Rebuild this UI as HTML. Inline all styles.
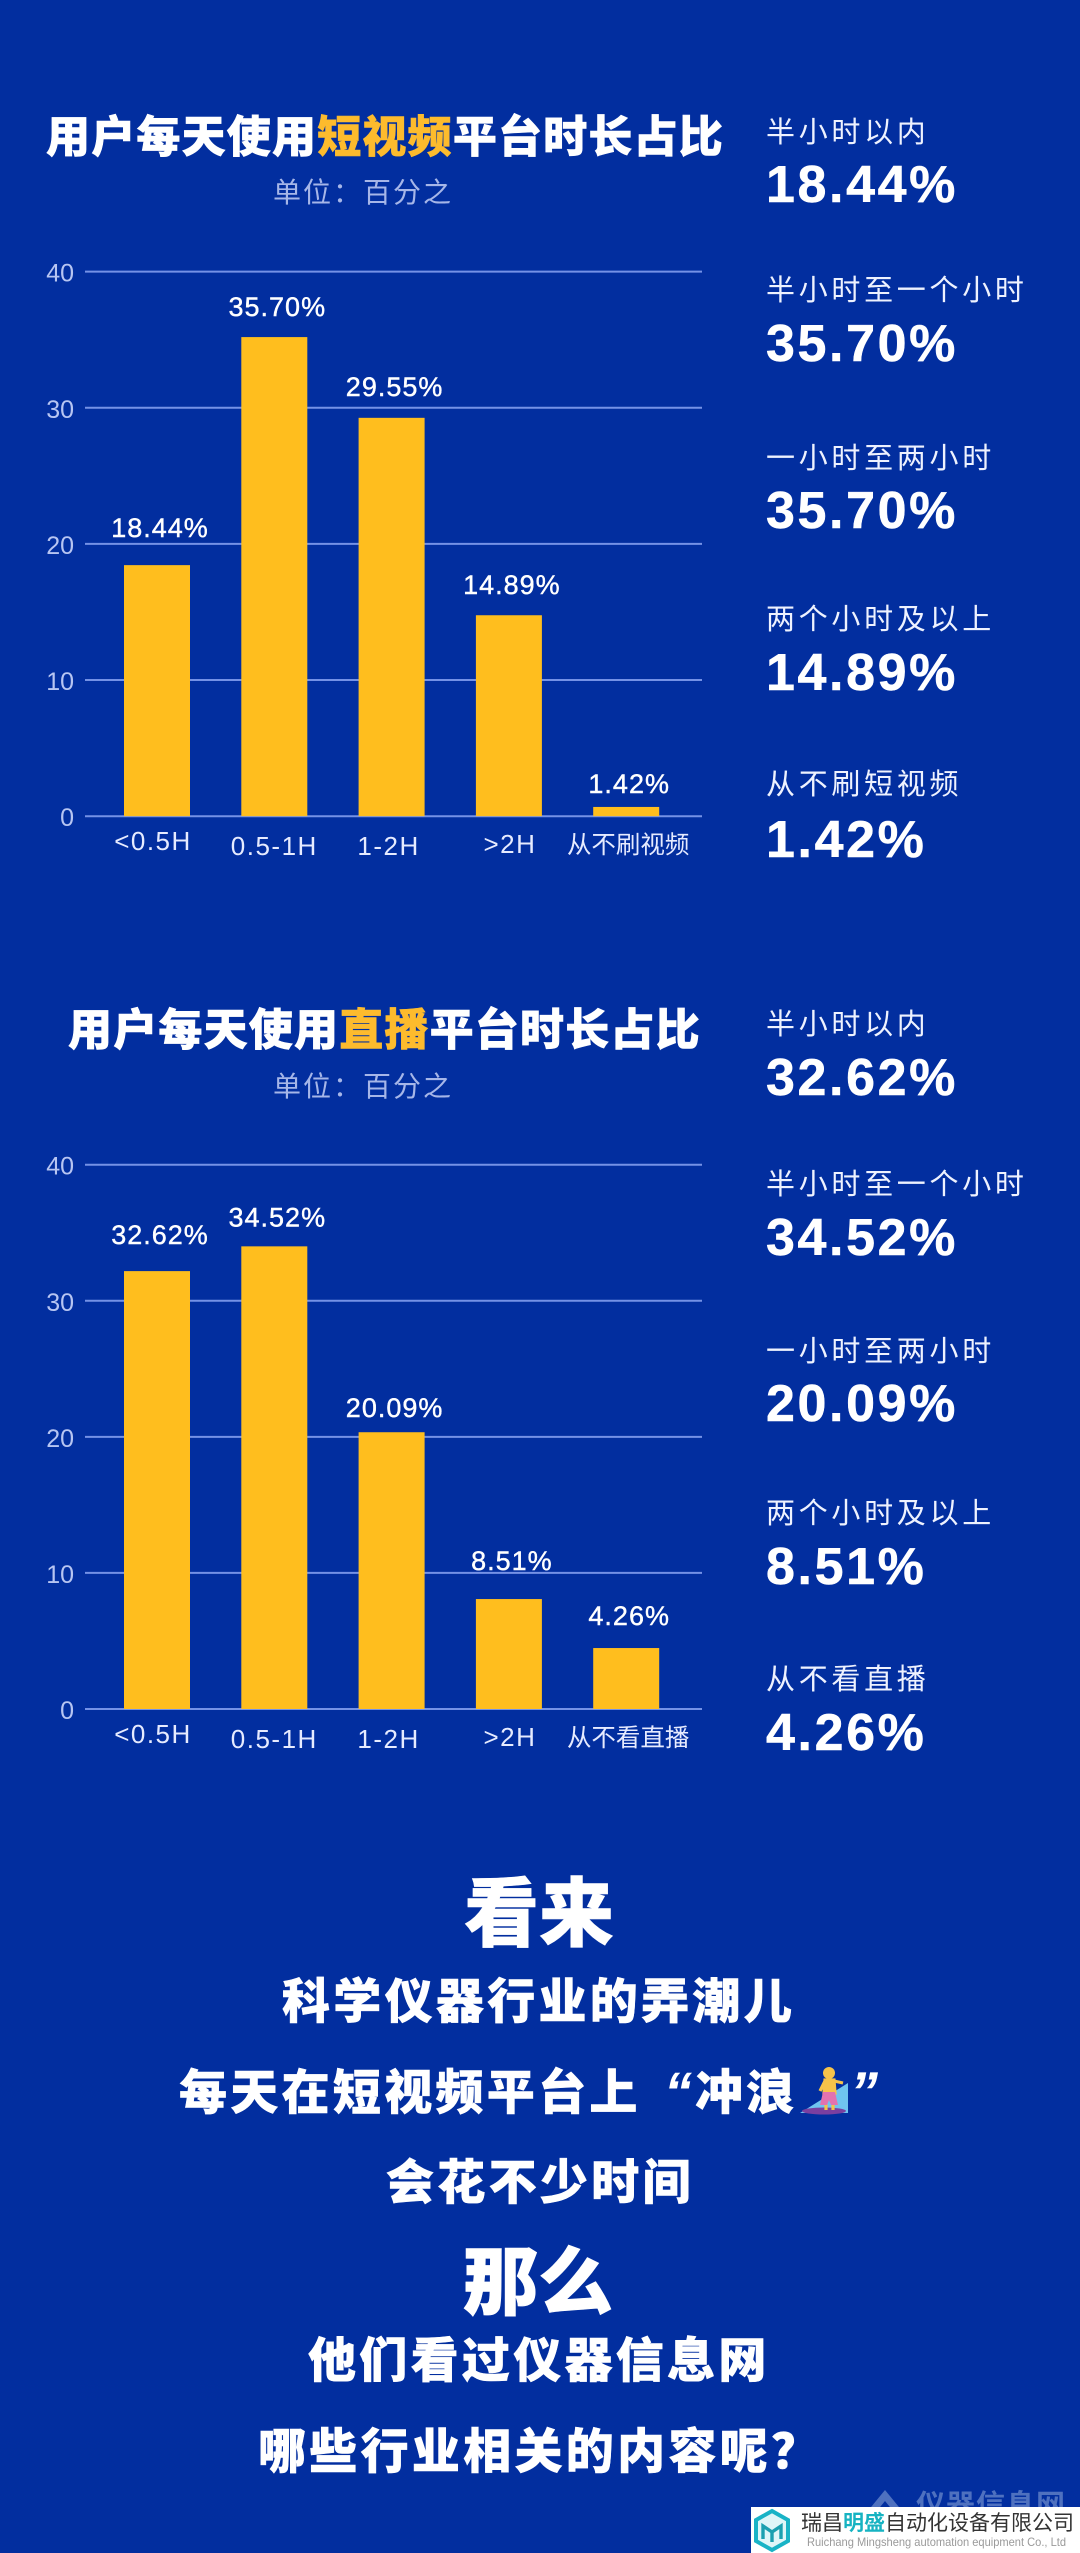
<!DOCTYPE html>
<html lang="zh-CN">
<head>
<meta charset="utf-8">
<title>用户每天使用短视频与直播平台时长占比</title>
<style>
html,body{margin:0;padding:0;background:#022e9f;}
svg{display:block;}
text{font-family:"Liberation Sans","Noto Sans CJK SC",sans-serif;}
.cjk{font-family:"Noto Sans CJK SC","WenQuanYi Zen Hei",sans-serif;}
.title{font-size:44px;font-weight:900;fill:#fff;letter-spacing:1.2px;stroke:#fff;stroke-width:.6px;}
.title .hl{fill:#fdbb2d;stroke:#fdbb2d;}
.unit{font-size:28px;fill:#a6b6e8;letter-spacing:2px;}
.side-label{font-size:29px;fill:#eef2ff;letter-spacing:3.7px;}
.side-value{font-size:52px;font-weight:700;fill:#fff;letter-spacing:2.6px;stroke:#fff;stroke-width:.5px;}
.big{font-size:75px;font-weight:900;fill:#fff;text-anchor:middle;stroke:#fff;stroke-width:.6px;}
.line{font-size:48px;font-weight:900;fill:#fff;letter-spacing:3.3px;stroke:#fff;stroke-width:.5px;}
.tick{font-size:25px;fill:#b7c5f2;text-anchor:end;}
.bar-label{font-size:27px;fill:#fff;text-anchor:middle;letter-spacing:1px;stroke:#fff;stroke-width:.4px;}
.cat{font-size:26px;fill:#e6ebff;text-anchor:middle;letter-spacing:1.5px;}
.cat-cjk{font-size:24.5px;fill:#e6ebff;text-anchor:middle;}
</style>
</head>
<body>
<svg id="page" xmlns="http://www.w3.org/2000/svg" width="1080" height="2553" viewBox="0 0 1080 2553">
  <rect width="1080" height="2553" fill="#022e9f"/>

  <text class="title cjk" x="46" y="152">用户每天使用<tspan class="hl">短视频</tspan>平台时长占比</text>
  <text class="unit cjk" x="273" y="202">单位：百分之</text>
  <g id="chart-short"></g>

  <g>
    <text class="side-label cjk" x="766" y="142">半小时以内</text>
    <text class="side-value" x="766" y="202">18.44%</text>
    <text class="side-label cjk" x="766" y="300">半小时至一个小时</text>
    <text class="side-value" x="766" y="361">35.70%</text>
    <text class="side-label cjk" x="766" y="468">一小时至两小时</text>
    <text class="side-value" x="766" y="528">35.70%</text>
    <text class="side-label cjk" x="766" y="629">两个小时及以上</text>
    <text class="side-value" x="766" y="690">14.89%</text>
    <text class="side-label cjk" x="766" y="794">从不刷短视频</text>
    <text class="side-value" x="766" y="857">1.42%</text>
  </g>

  <text class="title cjk" x="68" y="1045">用户每天使用<tspan class="hl">直播</tspan>平台时长占比</text>
  <text class="unit cjk" x="273" y="1096">单位：百分之</text>
  <g id="chart-live"></g>

  <g>
    <text class="side-label cjk" x="766" y="1034">半小时以内</text>
    <text class="side-value" x="766" y="1095">32.62%</text>
    <text class="side-label cjk" x="766" y="1194">半小时至一个小时</text>
    <text class="side-value" x="766" y="1255">34.52%</text>
    <text class="side-label cjk" x="766" y="1361">一小时至两小时</text>
    <text class="side-value" x="766" y="1421">20.09%</text>
    <text class="side-label cjk" x="766" y="1523">两个小时及以上</text>
    <text class="side-value" x="766" y="1584">8.51%</text>
    <text class="side-label cjk" x="766" y="1689">从不看直播</text>
    <text class="side-value" x="766" y="1750">4.26%</text>
  </g>

  <g>
    <text class="big cjk" x="539" y="1940">看来</text>
    <text class="line cjk" x="282" y="2018">科学仪器行业的弄潮儿</text>
    <text class="line cjk" x="179" y="2109">每天在短视频平台上</text>
    <text x="664" y="2111" font-size="56" font-weight="700" font-style="italic" fill="#fff" style="font-family:'Liberation Sans',sans-serif">“</text>
    <text class="line cjk" x="695" y="2109">冲浪</text>
    <g>
      <polygon points="800,2113 848,2083 848,2113" fill="#6fc4f0"/>
      <ellipse cx="824" cy="2111" rx="22" ry="3.5" fill="#7a3fa0"/>
      <circle cx="829" cy="2073" r="6" fill="#f6c34a"/>
      <path d="M825 2080h9l1 13h-11zM825 2081l-5 10M834 2081l9 2M826 2104v6M833 2104v6" stroke="#f6c34a" stroke-width="3.2" fill="#f6c34a"/>
      <path d="M823 2092h12l3 13h-7l-2-5-2 5h-7z" fill="#e272b0"/>
    </g>
    <text x="850" y="2111" font-size="56" font-weight="700" font-style="italic" fill="#fff" style="font-family:'Liberation Sans',sans-serif">”</text>
    <text class="line cjk" x="386" y="2199">会花不少时间</text>
    <text class="big cjk" x="538" y="2309">那么</text>
    <text class="line cjk" x="308" y="2377">他们看过仪器信息网</text>
    <text class="line cjk" x="258" y="2468">哪些行业相关的内容呢？</text>
  </g>

  <g opacity=".72">
    <path d="M867 2512l18-22 18 22h-9l-9-11-9 11z" fill="#6d8ccc"/>
    <text class="cjk" x="916" y="2515" font-size="29" font-weight="700" fill="#6d8ccc" letter-spacing="1">仪器信息网</text>
  </g>

  <g>
    <rect x="751" y="2507" width="329" height="46" fill="#ffffff"/>
    <polygon points="772,2511 788,2520 788,2541 772,2550 756,2541 756,2520" fill="#dff6f8" stroke="#19b3c6" stroke-width="4"/>
    <path d="M763 2539v-13l9 6 9-6v13M772 2532v10" fill="none" stroke="#1ba0b0" stroke-width="3.4"/>
    <text class="cjk" x="801" y="2530" font-size="21" fill="#333">瑞昌<tspan fill="#17b3c2" font-weight="700">明盛</tspan>自动化设备有限公司</text>
    <text x="807" y="2546" font-size="12" fill="#9a9a9a" textLength="259" lengthAdjust="spacingAndGlyphs">Ruichang Mingsheng automation equipment Co., Ltd</text>
  </g>
</svg>

<script>
const yTicks = [0, 10, 20, 30, 40];
const shortCategories = ['<0.5H', '0.5-1H', '1-2H', '>2H', '从不刷视频'];
const shortBars = [18.44, 35.19, 29.26, 14.76, 0.68];
const shortLabels = ['18.44%', '35.70%', '29.55%', '14.89%', '1.42%'];
const liveCategories = ['<0.5H', '0.5-1H', '1-2H', '>2H', '从不看直播'];
const liveBars = [32.18, 34.0, 20.34, 8.08, 4.48];
const liveLabels = ['32.62%', '34.52%', '20.09%', '8.51%', '4.26%'];

const NS = 'http://www.w3.org/2000/svg';

function node(parent, tag, attrs, content) {
  const el = document.createElementNS(NS, tag);
  for (const k in attrs) el.setAttribute(k, attrs[k]);
  if (content !== undefined) el.textContent = content;
  parent.appendChild(el);
  return el;
}

function drawChart(cfg) {
  const g = document.getElementById(cfg.id);
  const left = 85, right = 702, firstBar = 124, step = 117.3, barW = 66, maxV = 40;
  const catShiftX = [-4, 0, -3, 1, 2];
  const catShiftY = [-3, 2, 2, 0, 0];
  const yScale = v => cfg.y0 - (v / maxV) * cfg.plotH;
  const xCenter = i => firstBar + barW / 2 + i * step;

  yTicks.forEach(t => {
    const line = node(g, 'line', {x1: left, x2: right, y1: yScale(t), y2: yScale(t), stroke: '#7592e6', 'stroke-width': 2});
    
    
    const label = node(g, 'text', {class: 'tick', x: 74, y: yScale(t) + 10}, String(t));
    
    
  });

  cfg.bars.forEach((v, i) => {
    const rect = node(g, 'rect', {x: xCenter(i) - barW / 2, y: yScale(v), width: barW, height: cfg.y0 - yScale(v), fill: '#ffbe1e'});
    
    
    const value = node(g, 'text', {class: 'bar-label', x: xCenter(i) + 3, y: yScale(v) - cfg.labelGap[i] + 9}, cfg.labels[i]);
    
    
    const isCjk = /[^\x00-\x7f]/.test(cfg.categories[i]);
    const cat = node(g, 'text', {class: isCjk ? 'cat-cjk cjk' : 'cat', x: xCenter(i) + catShiftX[i], y: cfg.y0 + 37 + catShiftY[i]}, cfg.categories[i]);
    
    
  });
}

drawChart({id: 'chart-short', y0: 816.2, plotH: 544.6, bars: shortBars, labels: shortLabels, categories: shortCategories, labelGap: [37, 30, 31, 30, 23]});
drawChart({id: 'chart-live', y0: 1709, plotH: 544.3, bars: liveBars, labels: liveLabels, categories: liveCategories, labelGap: [36, 29, 24, 38, 32]});
</script>
</body>
</html>
